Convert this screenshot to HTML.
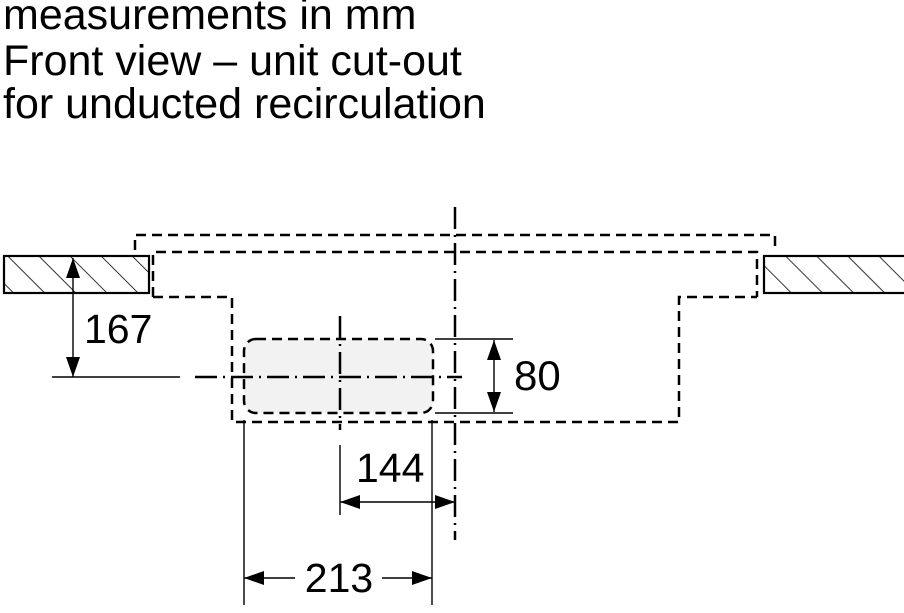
<!DOCTYPE html>
<html><head><meta charset="utf-8"><style>
html,body{margin:0;padding:0;background:#fff;}
svg{display:block;}
text{font-family:"Liberation Sans",sans-serif;fill:#000;}
</style></head><body>
<svg width="904" height="613" viewBox="0 0 904 613" xmlns="http://www.w3.org/2000/svg">
<defs>
<pattern id="h" patternUnits="userSpaceOnUse" width="22" height="22" patternTransform="rotate(-45)">
<line x1="0" y1="0" x2="0" y2="22" stroke="#000" stroke-width="1.6"/>
</pattern>
<marker id="a" viewBox="0 0 20 14" refX="20" refY="7" markerWidth="20" markerHeight="14" markerUnits="userSpaceOnUse" orient="auto-start-reverse">
<path d="M0,0 L20,7 L0,14 z" fill="#000"/></marker>
</defs>
<text x="3" y="29" font-size="43">measurements in mm</text>
<text x="3" y="75" font-size="43">Front view – unit cut-out</text>
<text x="3" y="118" font-size="43">for unducted recirculation</text>

<rect x="4" y="256" width="145" height="37" fill="url(#h)" stroke="#000" stroke-width="2.2"/>
<rect x="764" y="256" width="145" height="37" fill="url(#h)" stroke="#000" stroke-width="2.2"/>

<rect x="244" y="339" width="189" height="74" rx="12" fill="#f2f2f2" stroke="#000" stroke-width="2.5" stroke-dasharray="10,6"/>

<g fill="none" stroke="#000" stroke-width="2.5" stroke-dasharray="10,6">
<path d="M135,250 V235 H775 V250"/>
<path d="M153,297 V252 H757 V297"/>
<path d="M153,297 H232 V422 H679 V297 H757"/>
</g>

<g fill="none" stroke="#000" stroke-width="2.5" stroke-dasharray="22,6,2,6">
<path d="M455,207 V540"/>
<path d="M340,316 V430"/>
<path d="M195,377 H462"/>
</g>

<g stroke="#000" stroke-width="1.4" fill="none">
<path d="M52,377 H180"/>
<path d="M73,258 V377" marker-start="url(#a)" marker-end="url(#a)"/>
<path d="M435,339 H513 M435,413 H513"/>
<path d="M494,340 V412" marker-start="url(#a)" marker-end="url(#a)"/>
<path d="M340,445 V515 M432,420 V605 M244,420 V605"/>
<path d="M340,502 H455" marker-start="url(#a)" marker-end="url(#a)"/>
<path d="M244,578 H295" marker-start="url(#a)"/>
<path d="M382,578 H432" marker-end="url(#a)"/>
</g>
<text x="84" y="343" font-size="41">167</text>
<text x="514" y="390" font-size="42">80</text>
<text x="356" y="482" font-size="41">144</text>
<text x="339" y="592" font-size="41" text-anchor="middle">213</text>
</svg>
</body></html>
